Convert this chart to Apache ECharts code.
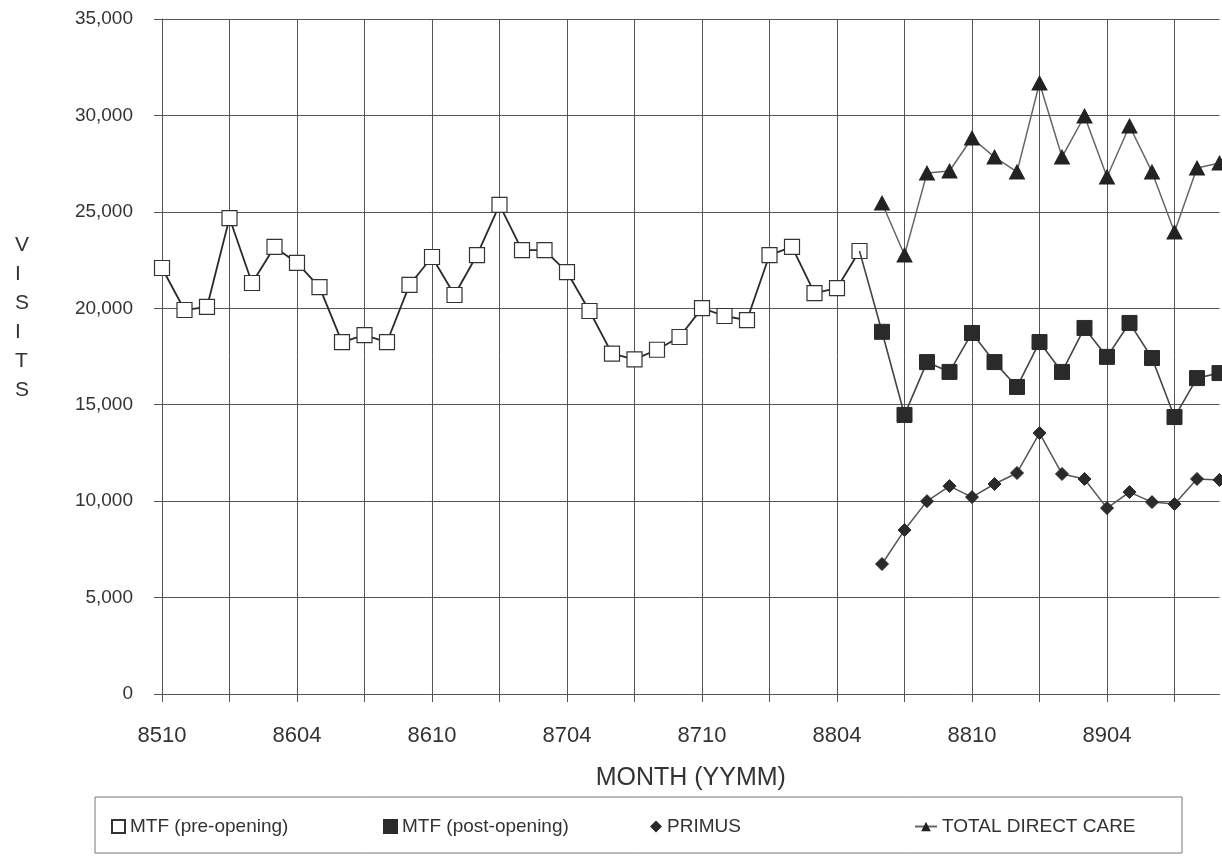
<!DOCTYPE html>
<html>
<head>
<meta charset="utf-8">
<script src="https://cdn.jsdelivr.net/npm/echarts@6/dist/echarts.min.js"></script>
<style>
html,body{margin:0;padding:0;background:#fff;}
#chart{width:1222px;height:861px;}
</style>
</head>
<body>
<div id="chart"></div>
<script>
// Months (YYMM), one category per month
const months = ['8510','8511','8512','8601','8602','8603','8604','8605','8606','8607','8608','8609',
  '8610','8611','8612','8701','8702','8703','8704','8705','8706','8707','8708','8709',
  '8710','8711','8712','8801','8802','8803','8804','8805','8806','8807','8808','8809',
  '8810','8811','8812','8901','8902','8903','8904','8905','8906','8907','8908','8909'];

// MTF visits before opening (8510..8805)
const mtfPre = [22090,19910,20070,24680,21310,23180,22350,21100,18250,18610,18250,21210,
  22660,20690,22760,25360,23020,23020,21880,19860,17650,17350,17850,18510,
  20010,19600,19390,22760,23180,20790,21050,22970];
// MTF visits after opening (8806..8909)
const mtfPost = [18780,14470,17210,16700,18720,17210,15920,18250,16700,18980,17480,19240,17420,14360,16380,16640];
const primus = [6740,8500,10000,10780,10210,10890,11460,13530,11410,11150,9640,10470,9950,9850,11150,11100];
const totalDirect = [25460,22760,27010,27120,28830,27840,27070,31680,27840,29970,26810,29450,27070,23950,27270,27530];

const yTicks = [0,5000,10000,15000,20000,25000,30000,35000];

const FONT = '"Liberation Sans", Arial, Helvetica, sans-serif';
const startPost = mtfPre.length;

function padTo(values, start, total) {
  const out = [];
  for (let i = 0; i < total; i++) out.push(i >= start && i - start < values.length ? values[i - start] : null);
  return out;
}
const preData = padTo(mtfPre, 0, months.length);
const postData = padTo(mtfPost, startPost, months.length);
postData[startPost - 1] = { value: mtfPre[mtfPre.length - 1], symbol: 'none' };
const primusData = padTo(primus, startPost, months.length);
const totalData = padTo(totalDirect, startPost, months.length);

const chart = echarts.init(document.getElementById('chart'), null, { renderer: 'canvas' });

const legendBase = {
  top: 812,
  textStyle: { fontFamily: FONT, fontSize: 19, color: '#333' },
  itemWidth: 13, itemHeight: 13,
  selectedMode: false
};

chart.setOption({
  animation: false,
  backgroundColor: '#fff',
  title: {
    text: 'V\nI\nS\nI\nT\nS',
    left: 10, top: 226,
    textStyle: { fontFamily: FONT, fontSize: 21, fontWeight: 'normal', color: '#333', lineHeight: 29 }
  },
  graphic: [{
    type: 'rect',
    shape: { x: 95, y: 797, width: 1087, height: 56 },
    style: { fill: 'none', stroke: '#777', lineWidth: 1 },
    silent: true
  }],
  legend: [
    Object.assign({}, legendBase, { left: 106, data: [{ name: 'MTF (pre-opening)', icon: 'rect' }] }),
    Object.assign({}, legendBase, { left: 378, data: [{ name: 'MTF (post-opening)', icon: 'rect' }] }),
    Object.assign({}, legendBase, { left: 645, itemWidth: 12, itemHeight: 12, data: [{ name: 'PRIMUS', icon: 'diamond' }] }),
    Object.assign({}, legendBase, { left: 909, itemWidth: 22, itemHeight: 12, data: [{ name: 'TOTAL DIRECT CARE' }] })
  ],
  grid: { left: 162, top: 19, right: 2.5, bottom: 167, containLabel: false },
  xAxis: {
    type: 'category',
    data: months,
    boundaryGap: false,
    name: 'MONTH (YYMM)',
    nameLocation: 'middle',
    nameGap: 72,
    nameTextStyle: { fontFamily: FONT, fontSize: 25, color: '#333' },
    axisLine: { show: true, lineStyle: { color: '#555', width: 1 } },
    axisTick: { show: true, interval: 2, length: 8, inside: false, lineStyle: { color: '#555' } },
    axisLabel: { interval: 5, margin: 31, fontFamily: FONT, fontSize: 22, color: '#333' },
    splitLine: { show: true, interval: 2, lineStyle: { color: '#555', width: 1 } }
  },
  yAxis: {
    type: 'value',
    min: 0, max: 35000, interval: 5000,
    axisLine: { show: true, lineStyle: { color: '#555', width: 1 } },
    axisTick: { show: true, length: 8, lineStyle: { color: '#555' } },
    axisLabel: {
      margin: 29, fontFamily: FONT, fontSize: 19, color: '#333',
      formatter: v => yTicks.indexOf(v) >= 0 ? v.toLocaleString('en-US') : ''
    },
    splitLine: { show: true, lineStyle: { color: '#555', width: 1 } }
  },
  series: [
    {
      name: 'MTF (pre-opening)', type: 'line', data: preData,
      symbol: 'rect', symbolSize: 15, showAllSymbol: true, connectNulls: false,
      lineStyle: { color: '#2a2a2a', width: 1.8 },
      itemStyle: { color: '#fff', borderColor: '#333', borderWidth: 1.2 },
      z: 3
    },
    {
      name: 'MTF (post-opening)', type: 'line', data: postData,
      symbol: 'rect', symbolSize: 15, showAllSymbol: true,
      lineStyle: { color: '#444', width: 1.6 },
      itemStyle: { color: '#2a2a2a', borderColor: '#2a2a2a', borderWidth: 1 },
      z: 4
    },
    {
      name: 'PRIMUS', type: 'line', data: primusData,
      symbol: 'diamond', symbolSize: 13, showAllSymbol: true,
      lineStyle: { color: '#555', width: 1.5 },
      itemStyle: { color: '#2a2a2a', borderColor: '#2a2a2a' },
      z: 4
    },
    {
      name: 'TOTAL DIRECT CARE', type: 'line', data: totalData,
      symbol: 'triangle', symbolSize: [15, 14], showAllSymbol: true,
      lineStyle: { color: '#666', width: 1.5 },
      itemStyle: { color: '#222', borderColor: '#222' },
      z: 4
    }
  ]
});
</script>
</body>
</html>
